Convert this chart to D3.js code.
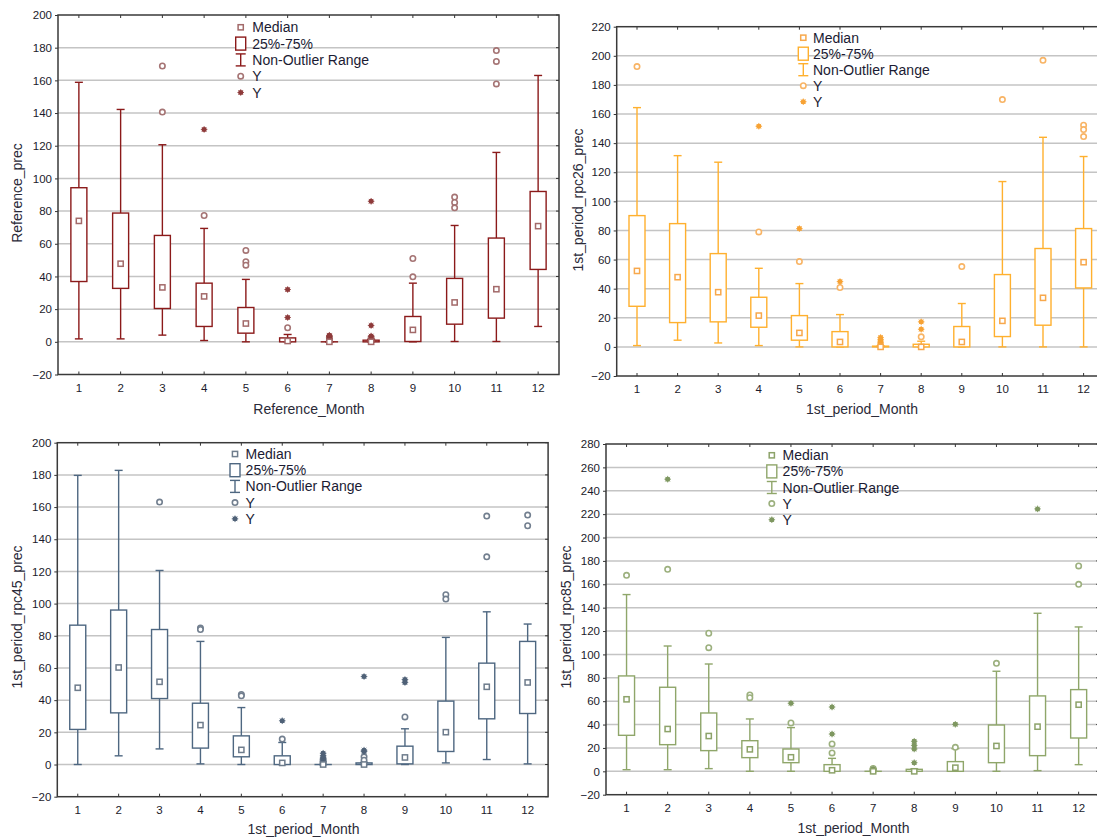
<!DOCTYPE html>
<html><head><meta charset="utf-8">
<script src="https://cdn.jsdelivr.net/npm/d3@7"></script>
<style>
body{margin:0;background:#fff;}
svg{display:block;font-family:"Liberation Sans",Arial,sans-serif;}
</style>
</head><body>
<svg id="chart" width="1097" height="840"></svg>
<script>
// ---------- DATA ----------
const months = [1,2,3,4,5,6,7,8,9,10,11,12];
const legendLabels = ["Median","25%-75%","Non-Outlier Range","Y","Y"];

// Reference
const refLow    = [1.8, 1.8, 4.1, 0.8, 0, 0, 0, 0, 0, 0.2, 0.2, 9.4];
const refQ1     = [36.9, 32.7, 20.4, 9.4, 5.3, 0, 0, 0, 0.2, 10.8, 14.5, 44.3];
const refMedian = [74, 47.8, 33.3, 27.8, 11.2, 0.5, 0, 0, 7.3, 24.1, 32.2, 70.8];
const refQ3     = [94.3, 78.8, 65.1, 35.9, 21, 2.4, 0, 1, 15.5, 38.8, 63.5, 92];
const refHigh   = [158.8, 142.2, 120.6, 69.4, 38.2, 4.5, 0, 1.5, 35.9, 71.2, 115.9, 163];
const refOut    = [[], [], [168.8, 140.6], [77.3], [55.9, 49, 46.9], [8.6], [1, 2.5], [2.5], [51, 39.8], [88.6, 85.3, 82], [178.2, 171.6, 157.8], []];
const refExt    = [[], [], [], [130], [], [32, 14.9], [0.5, 1.5, 2, 3, 3.5, 4], [86, 10, 3.5, 2], [], [], [], []];

// 1st period rpc26
const r26Low    = [0.9, 4.6, 2.7, 0.9, 0, 0, 0, 0, 0, 0, 0, 0];
const r26Q1     = [27.9, 16.7, 17.2, 13.5, 4.6, 0, 0, 0, 0, 7.1, 14.9, 40.5];
const r26Median = [52.2, 47.9, 37.6, 21.5, 9.6, 3.4, 0, 0, 3.4, 17.9, 33.7, 58.2];
const r26Q3     = [90.2, 84.7, 64.1, 34.1, 21.5, 10.5, 0.5, 1.8, 14, 49.7, 67.6, 81.3];
const r26High   = [164.4, 131.4, 126.9, 54, 43.5, 22.2, 0.8, 3.9, 29.8, 113.6, 144, 130.8];
const r26Out    = [[192.6], [], [], [79], [58.6], [40.8], [], [6.9], [55.2], [169.9], [196.9], [152.3, 149.3, 144.5]];
const r26Ext    = [[], [], [], [151.6], [81.3], [44.9], [1, 2, 3, 4, 5, 6.5], [17.2, 12.1], [], [], [], []];

// 1st period rpc45
const r45Low    = [0, 5.4, 9.7, 0.4, 0, 0, 0, 0, 0, 1, 3.1, 0.4];
const r45Q1     = [21.8, 32.1, 41, 10.2, 4.8, 0, 0, 0, 0.4, 8.1, 28.4, 31.7];
const r45Median = [47.7, 60.3, 51.4, 24.5, 9.1, 1, 0, 0, 4.4, 20.1, 48.3, 51];
const r45Q3     = [86.6, 96, 83.9, 38.1, 17.8, 5.4, 0, 1, 11.4, 39.4, 63, 76.5];
const r45High   = [179.7, 182.8, 120.6, 76.5, 35.4, 13.7, 0, 1.2, 22.2, 79, 94.9, 87.3];
const r45Out    = [[], [], [163.1], [84.8, 83.9], [43.5, 42.7], [15.8], [1.5, 3], [4.8, 2.7], [29.6], [105.5, 102.8], [154.4, 129.1], [155, 148.4]];
const r45Ext    = [[], [], [], [], [], [27.2], [1, 2, 3.5, 4.5, 5.5, 7], [54.7, 8.9, 8.1], [52.8, 51], [], [], []];

// 1st period rpc85
const r85Low    = [1.4, 1.4, 2.3, 0, 0, 0, 0, 0, 0, 0, 0.6, 5.7];
const r85Q1     = [30.8, 22.8, 17.7, 11.7, 7.4, 0, 0, 0, 0, 7.4, 13.4, 28.5];
const r85Median = [61.6, 36.2, 30.2, 18.8, 12, 0.9, 0, 0, 3.1, 21.7, 38.2, 57];
const r85Q3     = [81.6, 71.9, 49.9, 26.2, 19.1, 5.7, 0, 1.7, 8.3, 39.6, 64.5, 69.9];
const r85High   = [151.2, 107.2, 91.8, 44.8, 37.4, 11.1, 0, 2, 19.4, 85.6, 135.2, 123.5];
const r85Out    = [[167.7], [172.8], [118.1, 105.8], [65.3, 63], [41.4], [23.4, 15.7], [0.5, 1.5, 2.5], [], [20.5], [92.4], [], [175.7, 160]];
const r85Ext    = [[], [249.9], [], [], [58.2], [55, 31.9], [1, 2], [25.7, 22.2, 19.1, 7.4], [40.2], [], [224.5], []];

// ---------- DRAWING ----------
const svg = d3.select("#chart");

const panels = [
  {low:refLow,q1:refQ1,med:refMedian,q3:refQ3,high:refHigh,out:refOut,ext:refExt,
   yDomain:[-20,200], x0:58, x1:559, yTop:15, yBot:374.5,
   xTitle:"Reference_Month", yTitle:"Reference_prec", xtX:309, xtY:414, ytX:22, ytY:193,
   legX:240.7, legTX:252.3, legY:27.3, legStep:16.3,
   main:"#8B1A1A", medC:"#A36A6A", outC:"#A57474", extC:"#8E3A3A"},
  {low:r26Low,q1:r26Q1,med:r26Median,q3:r26Q3,high:r26High,out:r26Out,ext:r26Ext,
   yDomain:[-20,220], x0:616.7, x1:1103.9, yTop:26.7, yBot:376,
   xTitle:"1st_period_Month", yTitle:"1st_period_rpc26_prec", xtX:862, xtY:414, ytX:583, ytY:200,
   legX:803.3, legTX:813, legY:37.7, legStep:16,
   main:"#FFB02E", medC:"#F7A84C", outC:"#F8B465", extC:"#F7A234"},
  {low:r45Low,q1:r45Q1,med:r45Median,q3:r45Q3,high:r45High,out:r45Out,ext:r45Ext,
   yDomain:[-20,200], x0:57.3, x1:548.1, yTop:442.7, yBot:796.7,
   xTitle:"1st_period_Month", yTitle:"1st_period_rpc45_prec", xtX:303.5, xtY:834, ytX:22, ytY:617,
   legX:235, legTX:245.6, legY:454, legStep:16.2,
   main:"#4E6781", medC:"#6E7C8C", outC:"#727F8F", extC:"#4F6177"},
  {low:r85Low,q1:r85Q1,med:r85Median,q3:r85Q3,high:r85High,out:r85Out,ext:r85Ext,
   yDomain:[-20,280], x0:606, x1:1099.2, yTop:444, yBot:794.7,
   xTitle:"1st_period_Month", yTitle:"1st_period_rpc85_prec", xtX:853.5, xtY:833, ytX:571, ytY:617,
   legX:771.8, legTX:782.6, legY:455.3, legStep:16.1,
   main:"#8FA66A", medC:"#8DA36A", outC:"#9CB07E", extC:"#7E9760"}
];

function star(g, cx, cy, color) {
  const r = 3.3;
  for (let k = 0; k < 4; k++) {
    const a = k * Math.PI / 4;
    g.append("line")
      .attr("x1", cx - r * Math.cos(a)).attr("y1", cy - r * Math.sin(a))
      .attr("x2", cx + r * Math.cos(a)).attr("y2", cy + r * Math.sin(a))
      .attr("stroke", color).attr("stroke-width", 1).attr("stroke-opacity", 0.8);
  }
  g.append("circle").attr("cx", cx).attr("cy", cy).attr("r", 2.5).attr("fill", color);
}

panels.forEach(p => {
  const g = svg.append("g");
  const x = d3.scaleBand().domain(months).range([p.x0, p.x1]).padding(0);
  const y = d3.scaleLinear().domain(p.yDomain).range([p.yBot, p.yTop]);
  const bw = x.bandwidth();
  const cx = m => x(m) + bw / 2;
  const ticks = d3.range(p.yDomain[0], p.yDomain[1] + 1, 20);

  // gridlines
  g.append("g").selectAll("line").data(ticks.filter(t => t > p.yDomain[0] && t < p.yDomain[1]))
    .join("line")
    .attr("x1", p.x0).attr("x2", p.x1)
    .attr("y1", d => y(d)).attr("y2", d => y(d))
    .attr("stroke", "#c4c4c4").attr("stroke-width", 1.5);

  // y axis (left, outward ticks)
  const yAxis = g.append("g").attr("transform", `translate(${p.x0},0)`)
    .call(d3.axisLeft(y).tickValues(ticks).tickSize(3).tickPadding(3));
  yAxis.select(".domain").remove();
  yAxis.selectAll("line").attr("stroke", "#333");
  yAxis.selectAll("text").attr("font-size", "11.5px").attr("fill", "#1b1b2b")
    .attr("font-family", '"Liberation Sans",Arial,sans-serif');

  // right inward ticks
  g.append("g").selectAll("line").data(ticks).join("line")
    .attr("x1", p.x1).attr("x2", p.x1 - 3)
    .attr("y1", d => y(d)).attr("y2", d => y(d)).attr("stroke", "#333");

  // x axis bottom (inward ticks)
  const xAxis = g.append("g").attr("transform", `translate(0,${p.yBot})`)
    .call(d3.axisBottom(x).tickSize(0).tickPadding(9));
  xAxis.select(".domain").remove();
  xAxis.selectAll("text").attr("font-size", "11.5px").attr("fill", "#1b1b2b")
    .attr("font-family", '"Liberation Sans",Arial,sans-serif');
  g.append("g").selectAll("line").data(months).join("line")
    .attr("x1", d => cx(d)).attr("x2", d => cx(d))
    .attr("y1", p.yBot).attr("y2", p.yBot - 3).attr("stroke", "#333");
  g.append("g").selectAll("line").data(months).join("line")
    .attr("x1", d => cx(d)).attr("x2", d => cx(d))
    .attr("y1", p.yTop).attr("y2", p.yTop + 3).attr("stroke", "#333");

  // frame
  g.append("rect").attr("x", p.x0).attr("y", p.yTop)
    .attr("width", p.x1 - p.x0).attr("height", p.yBot - p.yTop)
    .attr("fill", "none").attr("stroke", "#3a3a3a").attr("stroke-width", 1.5);

  // titles
  g.append("text").attr("x", p.xtX).attr("y", p.xtY).attr("text-anchor", "middle")
    .attr("font-size", "14px").attr("fill", "#2a2a38").text(p.xTitle);
  g.append("text").attr("transform", `translate(${p.ytX},${p.ytY}) rotate(-90)`)
    .attr("text-anchor", "middle").attr("font-size", "14px").attr("fill", "#2a2a38").text(p.yTitle);

  // boxes
  const boxW = 16, capW = 8;
  const bg = g.append("g");
  months.forEach((m, i) => {
    const c = cx(m);
    bg.append("line").attr("x1", c).attr("x2", c).attr("y1", y(p.high[i])).attr("y2", y(p.q3[i]))
      .attr("stroke", p.main).attr("stroke-width", 1.4);
    bg.append("line").attr("x1", c).attr("x2", c).attr("y1", y(p.q1[i])).attr("y2", y(p.low[i]))
      .attr("stroke", p.main).attr("stroke-width", 1.4);
    bg.append("line").attr("x1", c - capW/2).attr("x2", c + capW/2).attr("y1", y(p.high[i])).attr("y2", y(p.high[i]))
      .attr("stroke", p.main).attr("stroke-width", 1.4);
    bg.append("line").attr("x1", c - capW/2).attr("x2", c + capW/2).attr("y1", y(p.low[i])).attr("y2", y(p.low[i]))
      .attr("stroke", p.main).attr("stroke-width", 1.4);
    bg.append("rect").attr("x", c - boxW/2).attr("y", y(p.q3[i]))
      .attr("width", boxW).attr("height", Math.max(0.01, y(p.q1[i]) - y(p.q3[i])))
      .attr("fill", "white").attr("stroke", p.main).attr("stroke-width", 1.4);
    p.out[i].forEach(v => {
      bg.append("circle").attr("cx", c).attr("cy", y(v)).attr("r", 2.7)
        .attr("fill", "white").attr("stroke", p.outC).attr("stroke-width", 1.6);
    });
    p.ext[i].forEach(v => star(bg, c, y(v), p.extC));
    bg.append("rect").attr("x", c - 2.6).attr("y", y(p.med[i]) - 2.6)
      .attr("width", 5.2).attr("height", 5.2)
      .attr("fill", "white").attr("stroke", p.medC).attr("stroke-width", 1.5);
  });

  // legend
  const lg = g.append("g");
  const rowY = k => p.legY + k * p.legStep;
  lg.append("rect").attr("x", p.legX - 2.6).attr("y", rowY(0) - 2.6).attr("width", 5.2).attr("height", 5.2)
    .attr("fill", "white").attr("stroke", p.medC).attr("stroke-width", 1.5);
  lg.append("rect").attr("x", p.legX - 5).attr("y", rowY(1) - 6.5).attr("width", 10).attr("height", 13)
    .attr("fill", "white").attr("stroke", p.main).attr("stroke-width", 1.4);
  lg.append("line").attr("x1", p.legX).attr("x2", p.legX).attr("y1", rowY(2) - 6).attr("y2", rowY(2) + 6)
    .attr("stroke", p.main).attr("stroke-width", 1.4);
  lg.append("line").attr("x1", p.legX - 5).attr("x2", p.legX + 5).attr("y1", rowY(2) - 6).attr("y2", rowY(2) - 6)
    .attr("stroke", p.main).attr("stroke-width", 1.4);
  lg.append("line").attr("x1", p.legX - 5).attr("x2", p.legX + 5).attr("y1", rowY(2) + 6).attr("y2", rowY(2) + 6)
    .attr("stroke", p.main).attr("stroke-width", 1.4);
  lg.append("circle").attr("cx", p.legX).attr("cy", rowY(3)).attr("r", 2.7)
    .attr("fill", "white").attr("stroke", p.outC).attr("stroke-width", 1.6);
  star(lg, p.legX, rowY(4), p.extC);
  lg.selectAll("text.lt").data(legendLabels).join("text").attr("class", "lt")
    .attr("x", p.legTX).attr("y", (d, k) => rowY(k) + 5)
    .attr("font-size", "14px").attr("fill", "#1b1b33").text(d => d);
});
</script>
</body></html>
